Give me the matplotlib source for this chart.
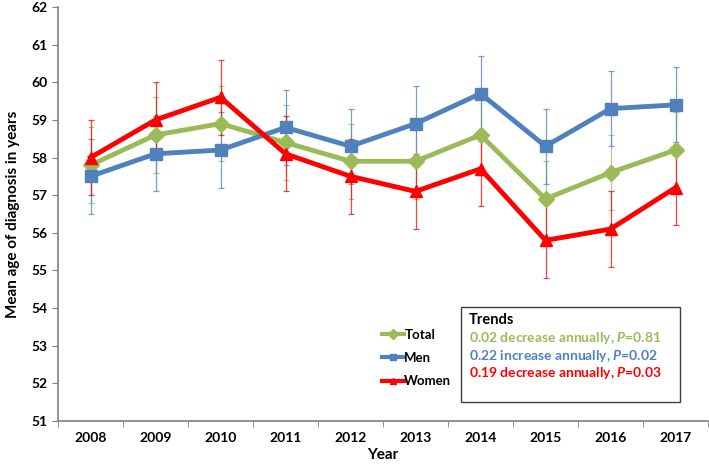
import matplotlib
matplotlib.use('Agg')
import matplotlib.pyplot as plt
from matplotlib.patches import Rectangle
from matplotlib.lines import Line2D

years = ['2008', '2009', '2010', '2011', '2012', '2013', '2014', '2015', '2016', '2017']
total = [57.8, 58.6, 58.9, 58.4, 57.9, 57.9, 58.6, 56.9, 57.6, 58.2]
men = [57.5, 58.1, 58.2, 58.8, 58.3, 58.9, 59.7, 58.3, 59.3, 59.4]
women = [58.0, 59.0, 59.6, 58.1, 57.5, 57.1, 57.7, 55.8, 56.1, 57.2]
err = 1.0

trend_lines = ['0.02 decrease annually, $P$=0.81',
               '0.22 increase annually, $P$=0.02',
               '0.19 decrease annually, $P$=0.03']

green = '#9BBB59'
blue = '#4F81BD'
red = '#FF0000'

plt.rcParams['font.family'] = ['Lato', 'DejaVu Sans']
plt.rcParams['font.weight'] = 'bold'
plt.rcParams['mathtext.fontset'] = 'custom'
plt.rcParams['mathtext.it'] = 'Lato:italic:bold'
plt.rcParams['mathtext.rm'] = 'Lato:bold'

fig = plt.figure(figsize=(7.09, 4.66), dpi=100)
ax = fig.add_axes([58 / 709, 45 / 466, 650 / 709, 414 / 466])

x = list(range(len(years)))
series = [('Total', total, green, 'D', 8),
          ('Men', men, blue, 's', 9),
          ('Women', women, red, '^', 9)]
handles = []
for name, vals, col, mk, ms in series:
    ax.errorbar(x, vals, yerr=err, fmt='none', ecolor=col, elinewidth=0.9,
                capsize=2.5, capthick=0.9, alpha=0.75, zorder=2)
    ax.plot(x, vals, color=col, lw=3.5, marker=mk, ms=ms, zorder=3)
    handles.append(Line2D([], [], color=col, lw=3, marker=mk, ms=5, label=name))

ax.set_xlim(-0.5, 9.5)
ax.set_ylim(51, 62)
ax.set_yticks(range(51, 63))
ax.set_xticks(x)
ax.set_xticklabels(years)
ax.set_xticks([i - 0.5 for i in range(11)], minor=True)
ax.tick_params(axis='x', which='major', length=0, pad=8, labelsize=10)
ax.tick_params(axis='x', which='minor', length=4, color='#808080')
ax.tick_params(axis='y', length=4, color='#808080', labelsize=10)
for s in ['top', 'right']:
    ax.spines[s].set_visible(False)
for s in ['left', 'bottom']:
    ax.spines[s].set_color('#808080')
    ax.spines[s].set_linewidth(1.2)

ax.set_xlabel('Year', fontsize=11, fontweight='bold', labelpad=3)
ax.set_ylabel('Mean age of diagnosis in years', fontsize=11, fontweight='bold', labelpad=8)

leg = ax.legend(handles=handles, loc='upper left', bbox_to_anchor=(0.485, 0.245),
                frameon=False, handlelength=1.6, handletextpad=0.05,
                labelspacing=0.85, fontsize=9.5, borderpad=0.2)
for t in leg.get_texts():
    t.set_fontweight('bold')

# trends box (axes coordinates)
bx0, bx1 = (461 - 58) / 650, (680 - 58) / 650
by1, by0 = (421 - 307) / 414, (421 - 402) / 414
ax.add_patch(Rectangle((bx0, by0), bx1 - bx0, by1 - by0, transform=ax.transAxes,
                       fill=False, edgecolor='#404040', lw=1.0, zorder=5))
tx = bx0 + 8 / 650
ax.text(tx, (421 - 320) / 414, 'Trends', transform=ax.transAxes, fontsize=10.5,
        fontweight='bold', va='center', color='black')
for i, (txt, col) in enumerate(zip(trend_lines, [green, blue, red])):
    ax.text(tx, (421 - 338 - i * 17.5) / 414, txt, transform=ax.transAxes,
            fontsize=10, fontweight='bold', va='center', color=col)

fig.savefig('out.png', dpi=100)
